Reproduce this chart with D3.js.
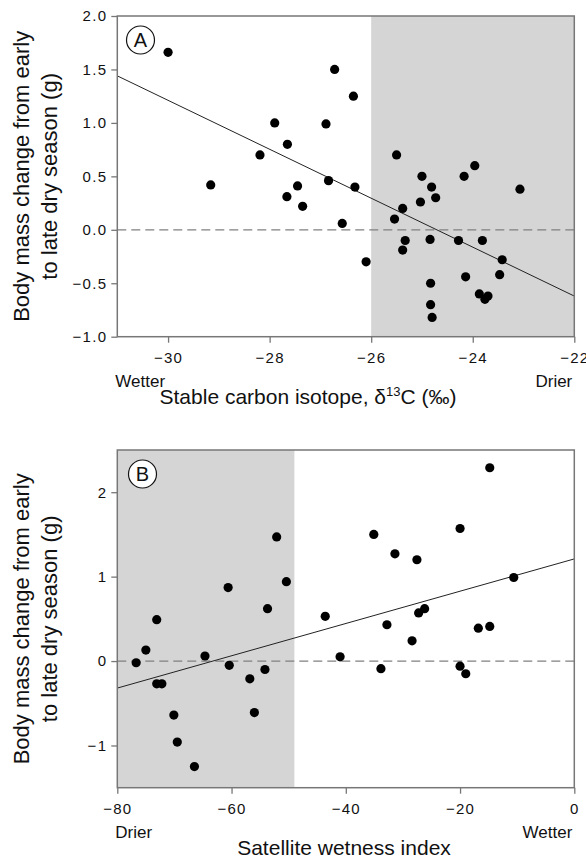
<!DOCTYPE html>
<html>
<head>
<meta charset="utf-8">
<script src="https://cdn.jsdelivr.net/npm/d3@7"></script>
<style>
  body { margin: 0; background: #fff; }
  text { font-family: "Liberation Sans", Arial, sans-serif; fill: #111; }
</style>
</head>
<body>
<div id="chart"></div>
<script>
// Panel A - stable carbon isotope (d13C) vs body mass change
var isoX = [-30.0, -29.16, -28.19, -27.9, -27.65, -27.66, -27.45, -27.35, -26.89, -26.84,
            -26.72, -26.57, -26.35, -26.32, -26.1, -25.54, -25.5, -25.38, -25.33, -25.38,
            -25.03, -25.0, -24.84, -24.81, -24.73, -24.83, -24.83, -24.8, -24.28, -24.17,
            -24.14, -23.96, -23.81, -23.87, -23.76, -23.7, -23.47, -23.42, -23.07];
var isoMass = [1.66, 0.42, 0.70, 1.00, 0.80, 0.31, 0.41, 0.22, 0.99, 0.46,
               1.50, 0.06, 1.25, 0.40, -0.30, 0.10, 0.70, 0.20, -0.10, -0.19,
               0.26, 0.50, -0.09, 0.40, 0.30, -0.50, -0.70, -0.82, -0.10, 0.50,
               -0.44, 0.60, -0.10, -0.60, -0.65, -0.62, -0.42, -0.28, 0.38];
var isoFitX = [-31, -22];
var isoFitY = [1.44, -0.62];
var isoXTicks = [-30, -28, -26, -24, -22];
var isoYTicks = [-1.0, -0.5, 0.0, 0.5, 1.0, 1.5, 2.0];
var isoDry = [-26, -22];

// Panel B - satellite wetness index vs body mass change
var wetX = [-76.7, -75.0, -73.1, -73.1, -72.2, -70.1, -69.5, -66.5, -64.65, -60.6,
            -60.4, -56.8, -56.0, -54.15, -53.7, -52.1, -50.4, -43.6, -41.0, -35.1,
            -33.85, -32.8, -31.4, -28.4, -27.55, -27.25, -26.2, -20.0, -20.0, -19.0,
            -16.8, -14.8, -14.8, -10.6];
var wetMass = [-0.02, 0.13, 0.49, -0.27, -0.27, -0.64, -0.96, -1.25, 0.06, 0.87,
               -0.05, -0.21, -0.61, -0.10, 0.62, 1.47, 0.94, 0.53, 0.05, 1.50,
               -0.09, 0.43, 1.27, 0.24, 1.20, 0.57, 0.62, 1.57, -0.06, -0.15,
               0.39, 0.41, 2.29, 0.99];
var wetFitX = [-80, 0];
var wetFitY = [-0.32, 1.21];
var wetXTicks = [-80, -60, -40, -20, 0];
var wetYTicks = [-1, 0, 1, 2];
var wetDry = [-80, -49];

var W = 586, H = 859;
var left = 117.3, right = 574.3;

var svg = d3.select('#chart').append('svg')
  .attr('width', W)
  .attr('height', H);

function panel(p) {
  var x = d3.scaleLinear().domain(p.xDomain).range([left, right]);
  var y = d3.scaleLinear().domain(p.yDomain).range([p.bottom, p.top]);
  var g = svg.append('g');

  // shaded dry-season band
  g.append('rect')
    .attr('x', x(p.shade[0]))
    .attr('y', p.top)
    .attr('width', x(p.shade[1]) - x(p.shade[0]))
    .attr('height', p.bottom - p.top)
    .attr('fill', '#d5d5d5');

  // zero line
  g.append('line')
    .attr('x1', left).attr('x2', right)
    .attr('y1', y(0)).attr('y2', y(0))
    .attr('stroke', '#808080')
    .attr('stroke-width', 1.2)
    .attr('stroke-dasharray', '9,5');

  // regression line
  var fit = p.fitX.map(function(d, i) { return [d, p.fitY[i]]; });
  g.append('path')
    .datum(fit)
    .attr('d', d3.line().x(function(d) { return x(d[0]); }).y(function(d) { return y(d[1]); }))
    .attr('stroke', '#222')
    .attr('stroke-width', 1)
    .attr('fill', 'none');

  // points
  g.selectAll('circle.pt')
    .data(p.xs)
    .enter().append('circle')
    .attr('class', 'pt')
    .attr('cx', function(d) { return x(d); })
    .attr('cy', function(d, i) { return y(p.ys[i]); })
    .attr('r', 4.6)
    .attr('fill', '#000');

  // frame
  g.append('rect')
    .attr('x', left).attr('y', p.top)
    .attr('width', right - left).attr('height', p.bottom - p.top)
    .attr('fill', 'none')
    .attr('stroke', '#777')
    .attr('stroke-width', 1.5);

  var xa = g.append('g')
    .attr('transform', 'translate(0,' + p.bottom + ')')
    .call(d3.axisBottom(x).tickValues(p.xTicks).tickSize(6).tickPadding(10).tickFormat(d3.format('d')));
  var ya = g.append('g')
    .attr('transform', 'translate(' + left + ',0)')
    .call(d3.axisLeft(y).tickValues(p.yTicks).tickSize(6).tickPadding(4).tickFormat(d3.format(p.yFormat)));
  [xa, ya].forEach(function(a) {
    a.select('.domain').remove();
    a.selectAll('line').attr('stroke', '#777').attr('stroke-width', 1.3);
    a.selectAll('text')
      .attr('font-family', '"Liberation Sans", Arial, sans-serif')
      .attr('font-size', 15)
      .attr('fill', '#111')
      .style('letter-spacing', '1.3px');
  });

  // end labels under the axis
  g.append('text').attr('x', left - 2).attr('y', p.bottom + 50)
    .attr('font-size', 17).text(p.leftWord);
  g.append('text').attr('x', right - 2).attr('y', p.bottom + 50)
    .attr('font-size', 17).attr('text-anchor', 'end').text(p.rightWord);

  // x title
  var xt = g.append('text')
    .attr('x', p.titleX)
    .attr('y', p.bottom + 67)
    .attr('font-size', 21)
    .attr('text-anchor', 'middle');
  p.xTitle(xt);

  // y title, two lines
  var cy = (p.top + p.bottom) / 2;
  var yt = g.append('text')
    .attr('transform', 'translate(29,' + cy + ') rotate(-90)')
    .attr('font-size', 22)
    .attr('text-anchor', 'middle');
  yt.append('tspan').attr('x', 0).attr('y', 0).text('Body mass change from early');
  yt.append('tspan').attr('x', 0).attr('y', 28).text('to late dry season (g)');

  // panel letter
  g.append('circle')
    .attr('cx', p.letterAt[0]).attr('cy', p.letterAt[1]).attr('r', 14)
    .attr('fill', '#fff').attr('stroke', '#111').attr('stroke-width', 1.2);
  g.append('text')
    .attr('x', p.letterAt[0]).attr('y', p.letterAt[1] + 7)
    .attr('font-size', 20).attr('text-anchor', 'middle')
    .text(p.letter);
}

panel({
  xDomain: [-31, -22], yDomain: [-1, 2], top: 16, bottom: 336.7,
  xs: isoX, ys: isoMass, fitX: isoFitX, fitY: isoFitY,
  xTicks: isoXTicks, yTicks: isoYTicks, yFormat: '.1f', shade: isoDry,
  leftWord: 'Wetter', rightWord: 'Drier', letter: 'A', letterAt: [140.5, 40],
  titleX: 308,
  xTitle: function(t) {
    t.append('tspan').text('Stable carbon isotope, \u03B4');
    t.append('tspan').attr('font-size', 13).attr('dy', -8).text('13');
    t.append('tspan').attr('dy', 8).text('C (\u2030)');
  }
});

panel({
  xDomain: [-80, 0], yDomain: [-1.5, 2.5], top: 450, bottom: 787.7,
  xs: wetX, ys: wetMass, fitX: wetFitX, fitY: wetFitY,
  xTicks: wetXTicks, yTicks: wetYTicks, yFormat: 'd', shade: wetDry,
  leftWord: 'Drier', rightWord: 'Wetter', letter: 'B', letterAt: [142.5, 474],
  titleX: 344,
  xTitle: function(t) { t.text('Satellite wetness index'); }
});
</script>
</body>
</html>
